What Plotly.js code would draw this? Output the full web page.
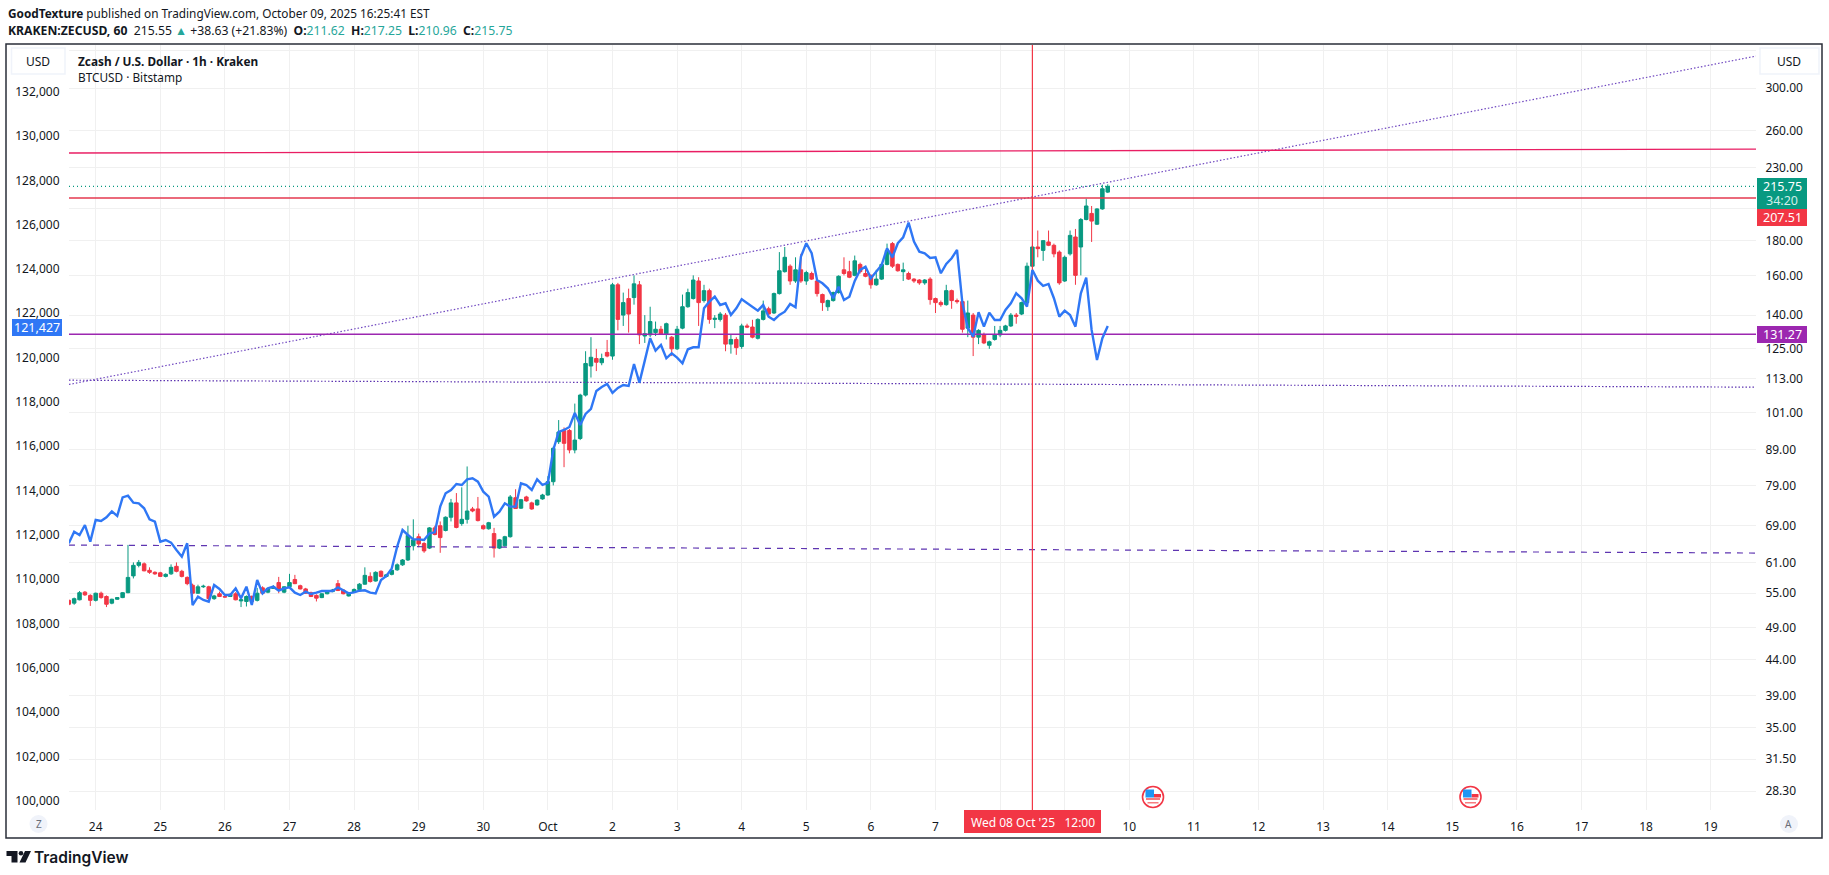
<!DOCTYPE html>
<html><head><meta charset="utf-8">
<script src="https://cdn.plot.ly/plotly-3.0.1.min.js"></script>
<style>html,body{margin:0;padding:0;background:#fff}#c{width:1829px;height:875px}</style>
</head><body><div id="c"></div>
<script>
var zecOpen=[53.7,53.2,53.8,55.2,54.6,53.7,55.0,54.4,53.2,53.9,54.2,55.1,58.3,60.4,60.7,59.4,59.0,58.9,58.2,58.7,60.2,59.2,58.0,56.5,55.0,56.2,56.2,54.0,54.9,54.4,54.4,54.9,53.6,53.5,54.4,53.7,56.0,55.2,55.9,57.0,55.2,56.2,57.6,56.4,55.8,55.1,54.6,54.2,54.9,55.3,56.8,55.6,54.5,55.2,55.7,56.7,58.2,57.3,59.2,58.2,58.6,59.5,60.5,61.5,64.5,66.5,65.0,64.0,68.5,69.0,67.9,71.0,74.5,69.5,70.5,73.0,73.0,69.0,68.3,67.2,64.0,64.5,66.5,75.8,73.2,76.0,74.5,74.0,75.5,76.5,80.0,91.5,95.0,95.0,89.0,92.5,107.0,118.0,121.0,119.3,123.5,122.0,155.0,140.0,148.0,148.5,155.0,130.5,131.0,132.0,133.5,131.5,130.0,125.0,134.0,144.0,148.0,157.0,147.0,152.0,138.0,138.0,140.0,127.0,129.0,126.0,135.0,134.5,129.5,138.0,143.0,141.0,150.5,162.0,165.0,157.0,163.0,157.0,161.0,157.0,150.0,144.0,147.0,151.0,163.0,162.0,160.0,166.0,161.0,160.0,155.0,158.0,166.0,178.0,166.0,162.0,161.0,158.0,157.5,156.0,158.0,148.0,146.0,145.0,152.0,147.0,146.5,134.0,140.0,130.0,131.0,126.5,129.0,131.0,133.0,135.0,140.0,140.5,146.0,165.0,176.0,174.0,179.0,177.0,173.0,157.0,172.0,182.0,176.0,193.0,197.0,190.0,200.0,211.62];
var zecHigh=[53.9,54.2,55.4,55.4,54.8,55.1,55.3,54.6,54.0,54.3,55.2,64.7,61.0,61.5,61.0,60.0,59.2,59.1,58.8,60.6,61.0,59.5,58.2,56.8,56.6,56.6,56.4,54.7,55.3,54.7,55.0,55.2,54.2,54.6,54.6,56.0,56.3,56.0,56.5,58.1,56.3,58.7,58.5,56.6,56.0,55.3,54.8,55.0,55.4,55.8,57.5,55.7,55.2,55.9,56.9,60.0,59.0,59.2,59.4,58.7,59.6,60.8,61.7,69.0,70.5,67.2,65.3,68.7,69.0,70.0,71.2,75.5,77.0,78.5,84.2,73.5,76.0,69.3,69.9,68.5,66.0,66.7,76.5,78.0,75.5,76.3,74.8,75.4,76.8,81.5,90.0,98.4,96.0,95.5,104.0,107.5,124.0,130.0,125.0,123.0,128.8,156.0,156.0,151.0,153.0,160.0,157.0,140.0,144.0,137.0,135.0,136.5,130.5,135.0,150.0,153.0,160.0,159.0,155.0,153.0,140.0,141.5,141.0,131.0,130.0,136.0,136.0,137.8,138.5,147.0,144.0,151.0,173.0,176.0,166.0,170.0,172.0,162.5,162.0,157.5,150.5,147.5,151.5,160.0,170.0,168.0,171.0,167.0,165.0,160.5,163.0,166.5,178.0,179.0,166.5,167.0,162.0,158.5,158.0,158.0,159.0,148.5,147.0,155.0,152.5,148.0,147.0,147.0,141.0,133.5,132.0,128.5,135.0,135.0,135.5,141.0,141.0,146.5,167.0,177.0,186.0,180.0,186.0,178.0,174.0,171.0,186.0,187.0,194.0,207.0,202.0,200.5,217.0,217.25];
var zecLow=[52.8,52.9,53.7,54.5,52.7,53.5,54.0,52.5,53.0,53.8,54.1,55.0,57.8,60.0,59.2,58.7,58.5,58.1,58.0,58.5,59.0,58.0,56.5,54.3,54.9,56.0,53.6,53.8,54.3,54.2,54.3,53.7,52.5,52.6,53.0,53.5,54.9,55.0,55.8,55.0,55.0,56.0,56.7,55.7,54.9,54.3,53.5,54.1,54.8,55.2,55.4,54.8,54.4,55.1,55.6,56.6,57.0,57.2,58.0,58.0,58.4,59.3,60.3,61.3,63.5,64.2,63.0,63.8,66.8,63.0,67.7,70.0,68.4,69.0,69.5,72.2,70.0,68.1,68.1,62.0,63.8,64.3,66.3,73.0,73.0,74.8,72.8,73.8,75.3,76.3,79.0,90.8,84.0,88.0,88.0,92.0,106.5,113.5,116.0,118.3,121.5,120.5,133.0,135.0,132.0,145.0,127.0,127.5,130.0,130.5,131.0,129.0,122.0,124.5,133.5,143.5,147.5,135.0,146.0,136.0,134.0,137.0,124.0,123.0,122.5,125.0,134.0,129.5,129.0,137.5,139.0,140.5,150.0,161.5,155.0,156.0,156.0,155.0,157.5,149.0,142.0,142.0,146.5,150.5,160.0,158.5,159.5,161.0,159.0,153.0,154.5,157.5,165.5,164.0,162.0,157.0,157.5,156.0,155.0,155.0,145.0,141.0,144.0,144.5,143.0,145.5,132.0,130.0,122.0,127.0,127.0,125.0,128.5,130.0,132.5,134.5,136.0,140.0,145.5,164.5,170.0,168.0,176.5,170.0,155.0,156.5,171.0,155.0,160.0,192.5,179.0,189.5,199.5,210.96];
var zecClose=[53.0,54.0,55.1,54.7,53.7,55.0,54.2,53.0,53.9,54.2,55.1,58.0,60.4,61.0,59.3,59.0,58.7,58.2,58.6,60.0,59.2,58.2,56.8,55.0,56.2,56.3,54.0,54.5,54.4,54.3,54.8,53.8,53.8,54.4,53.5,55.0,55.0,55.9,56.2,55.6,56.2,57.0,56.8,55.8,55.0,54.4,54.1,54.9,55.3,55.6,55.5,54.9,55.1,55.7,56.7,58.4,57.2,59.0,58.2,58.5,59.4,60.5,61.5,66.8,65.8,64.9,63.4,68.5,67.0,66.3,71.0,74.5,68.6,70.5,72.5,72.5,70.2,68.3,69.7,64.0,65.8,66.5,76.0,73.1,75.3,75.0,73.0,75.2,76.5,80.0,89.5,94.5,91.0,89.0,92.0,107.0,119.0,121.5,119.5,121.0,122.0,155.0,138.0,146.0,140.5,155.5,131.0,131.5,137.0,133.5,131.5,136.0,125.0,133.5,144.0,151.0,157.5,146.0,152.0,138.0,138.5,140.5,127.0,129.0,125.5,135.0,134.5,130.0,138.0,142.0,140.5,150.5,162.5,170.0,157.0,163.0,157.0,161.5,158.0,150.5,146.0,147.0,151.0,159.5,161.0,159.0,168.0,162.0,159.5,155.0,158.0,166.0,174.0,165.0,162.5,163.0,158.0,157.0,156.0,157.5,147.5,146.0,145.0,152.0,147.0,146.5,133.5,141.0,130.0,133.0,127.5,128.0,131.0,133.0,135.0,140.0,139.5,146.0,165.0,176.0,175.0,179.8,177.0,172.0,156.0,170.0,183.0,160.0,193.0,202.0,192.0,200.0,214.0,215.75];
var btcClose=[111617,112143,111993,112444,111692,112670,112625,112790,113061,112851,113693,113769,113453,113423,113197,112700,112595,111692,111767,111647,111316,111015,111617,108832,109208,109058,108983,109735,109555,109284,109284,109585,109133,109660,108832,109961,109359,109585,109660,109479,109585,109630,109389,109284,109434,109329,109389,109464,109464,109464,109630,109510,109359,109404,109479,109495,109389,109359,109961,110142,110488,111466,112218,111993,111797,111797,111767,112068,112113,113272,113874,114025,114295,114250,114506,114551,114401,113949,113723,112820,113046,113423,113272,113272,114325,114250,114025,114506,114251,114341,115831,116644,116734,116869,117501,116960,117456,117682,118494,118675,118810,118404,118630,118765,118720,119713,118869,119862,120873,120313,120570,119970,120196,119997,119744,120376,120467,120467,122227,122525,122751,122376,122453,121925,122227,122634,122453,122272,122119,122376,121848,121699,121925,122074,122421,122272,124556,125161,124710,123505,123356,123130,122679,123203,122602,122751,123460,123956,124105,123581,123879,124182,124936,124529,125161,125432,126091,125234,124782,124710,124498,124529,123807,124227,124484,124859,122453,121338,120945,122047,121397,122029,121699,121699,122150,122453,122904,122679,122300,123956,123473,123234,123324,122679,121848,122119,121925,121397,122904,123608,121248,119893,120873,121427];
var dayVals=['2025-09-24','2025-09-25','2025-09-26','2025-09-27','2025-09-28','2025-09-29','2025-09-30','2025-10-01','2025-10-02','2025-10-03','2025-10-04','2025-10-05','2025-10-06','2025-10-07','2025-10-08','2025-10-09','2025-10-10','2025-10-11','2025-10-12','2025-10-13','2025-10-14','2025-10-15','2025-10-16','2025-10-17','2025-10-18','2025-10-19'];
var dayText=['24','25','26','27','28','29','30','Oct','2','3','4','5','6','7','','','10','11','12','13','14','15','16','17','18','19'];
var zecTicks=[340,300,260,230,200,180,160,140,125,113,101,89,79,69,61,55,49,44,39,35,31.5,28.3];
var zecTickText=['','300.00','260.00','230.00','','180.00','160.00','140.00','125.00','113.00','101.00','89.00','79.00','69.00','61.00','55.00','49.00','44.00','39.00','35.00','31.50','28.30'];
var btcTicks=[100000,102000,104000,106000,108000,110000,112000,114000,116000,118000,120000,122000,124000,126000,128000,130000,132000];
var btcTickText=['100,000','102,000','104,000','106,000','108,000','110,000','112,000','114,000','116,000','118,000','120,000','122,000','124,000','126,000','128,000','130,000','132,000'];
var lineEnds=['2025-09-23 14:05','2025-10-19 16:50'];
var resistTop=[241.3,244.5];
var trendUp=[110.9,334.2];
var supportDotted=[112.5,109.9];
var supportDashed=[64.66,62.95];
var lastClose=[215.75,215.75];
var stopLine=[207.51,207.51];
var midLine=[131.27,131.27];
var crossTime=['2025-10-08 12:00','2025-10-08 12:00'];
var crossRange=[26.55,346.9];
var times=[];
(function(){var t=Date.UTC(2025,8,23,14);for(var i=0;i<zecOpen.length;i++){times.push(new Date(t+i*7200000).toISOString().slice(0,16).replace('T',' '));}})();

var FONT='"Noto Sans", sans-serif',INK='#131722',UP='#089981',DN='#f23645',BLUE='#2f77f5',PUR='#7e57c2';
var L=69,R=1756,T=45,B=810;
function px(x){return (x-L)/(R-L);}
function py(y){return (B-y)/(B-T);}
function hline(y,color,dash,w){return {x:lineEnds,y:y,mode:'lines',type:'scatter',yaxis:'y',hoverinfo:'skip',showlegend:false,line:{color:color,dash:dash,width:w}};}
var traces=[
 {type:'candlestick',x:times,open:zecOpen,high:zecHigh,low:zecLow,close:zecClose,yaxis:'y',showlegend:false,
  increasing:{line:{color:UP,width:1},fillcolor:UP},decreasing:{line:{color:DN,width:1},fillcolor:DN},hoverinfo:'skip'},
 hline(supportDashed,'#5e35b1','6px,6px',1.2),
 hline(supportDotted,'#5e35b1','1.5px,2px',1.2),
 hline(trendUp,'#7048c0','1.5px,2px',1.2),
 hline(resistTop,'#e91e63','solid',1.4),
 hline(lastClose,UP,'1px,3px',1.2),
 hline(stopLine,'#e5394f','solid',1.4),
 hline(midLine,'#9c27b0','solid',1.5),
 {x:times,y:btcClose,type:'scatter',mode:'lines',yaxis:'y2',showlegend:false,hoverinfo:'skip',line:{color:BLUE,width:2.4}},
 {x:crossTime,y:crossRange,type:'scatter',mode:'lines',yaxis:'y',showlegend:false,hoverinfo:'skip',line:{color:DN,width:1.2}}
];
function rectPx(x0,y0,x1,y1,fill,line,w){return {type:'rect',xref:'paper',yref:'paper',x0:px(x0),x1:px(x1),y0:py(y0),y1:py(y1),fillcolor:fill,line:{color:line||'rgba(0,0,0,0)',width:w||0},layer:'above'};}
function circPx(cx,cy,r,fill,line,w){var s=rectPx(cx-r,cy-r,cx+r,cy+r,fill,line,w);s.type='circle';return s;}
function text(x,y,t,o){o=o||{};return {xref:'paper',yref:'paper',x:px(x),y:py(y),text:t,showarrow:false,xanchor:o.anchor||'left',yanchor:'middle',align:o.align||'left',font:{family:o.family||FONT,size:o.size||11.8,color:o.color||INK,weight:o.weight||400}};}
function flag(cx,cy){return [
 circPx(cx,cy,10.5,'#ffffff',DN,1.6),
 rectPx(cx-7,cy+1,cx+7,cy+3,'#f77c80'),
 rectPx(cx-5.5,cy+5,cx+5.5,cy+6.5,'#f77c80'),
 rectPx(cx+1,cy-3,cx+8,cy+0.5,'#f23645'),
 rectPx(cx-7.5,cy-7.5,cx+1,cy+0.5,'#2196f3')
];}
var logo=[
 {type:'path',xref:'paper',yref:'paper',layer:'above',fillcolor:INK,line:{width:0},
  path:'M '+px(6.5)+' '+py(851)+' L '+px(17.5)+' '+py(851)+' L '+px(17.5)+' '+py(862.5)+' L '+px(11.5)+' '+py(862.5)+' L '+px(11.5)+' '+py(856)+' L '+px(6.5)+' '+py(856)+' Z'},
 circPx(21,853.2,2.3,INK),
 {type:'path',xref:'paper',yref:'paper',layer:'above',fillcolor:INK,line:{width:0},
  path:'M '+px(25)+' '+py(851)+' L '+px(31)+' '+py(851)+' L '+px(25.5)+' '+py(862.5)+' L '+px(19.5)+' '+py(862.5)+' Z'}
];
var shapes=[
 rectPx(6,44,1822,838,'rgba(0,0,0,0)','#2a2e39',1.5),
 rectPx(11.5,48,65,74,'#ffffff','#f0f3fa',1.5),
 rectPx(1760,48,1819,74,'#ffffff','#f0f3fa',1.5),
 circPx(38.5,824,9,'#f0f3fa'),
 circPx(1789,824,9,'#f0f3fa'),
 rectPx(1757,178,1807,209,UP),
 rectPx(1757,209,1807,226,DN),
 rectPx(1757,326,1807,343,'#9c27b0'),
 rectPx(12,319,62,336,BLUE),
 rectPx(964,810,1101,833,DN)
].concat(flag(1153,797)).concat(flag(1470.5,797)).concat(logo);
var teal='#26a69a';
function v(t){return '<span style="color:'+teal+'">'+t+'</span>';}
var annotations=[
 text(6,13,'<b>GoodTexture</b> published on TradingView.com, October 09, 2025 16:25:41 EST'),
 text(6,30,'<b>KRAKEN:ZECUSD, 60</b>  215.55 '+v('▲')+' +38.63 (+21.83%)  <b>O:</b>'+v('211.62')+'  <b>H:</b>'+v('217.25')+'  <b>L:</b>'+v('210.96')+'  <b>C:</b>'+v('215.75'),{size:12.2}),
 text(76,60.5,'<b>Zcash / U.S. Dollar · 1h · Kraken</b>'),
 text(76,77.5,'BTCUSD · Bitstamp'),
 text(38,61,'USD',{anchor:'center',size:12}),
 text(1789.5,61,'USD',{anchor:'center',size:12}),
 text(38.5,824,'Z',{anchor:'center',size:10,color:'#6a6d78'}),
 text(1789,824,'A',{anchor:'center',size:10,color:'#6a6d78'}),
 text(1782,186.5,'215.75',{anchor:'center',size:12.5,color:'#fff'}),
 text(1782,200.5,'34:20',{anchor:'center',size:12.5,color:'#d0efe9'}),
 text(1782,217.5,'207.51',{anchor:'center',size:12.5,color:'#fff'}),
 text(1782,334.5,'131.27',{anchor:'center',size:12.5,color:'#fff'}),
 text(37,327.5,'121,427',{anchor:'center',size:12.5,color:'#fff'}),
 text(1032.5,822,"Wed 08 Oct '25   12:00",{anchor:'center',size:12,color:'#fff'}),
 text(32,857,'TradingView',{size:15.5,color:INK,family:'Inter, sans-serif',weight:600})
];
var layout={
 width:1829,height:875,paper_bgcolor:'#fff',plot_bgcolor:'#fff',showlegend:false,
 margin:{l:L,r:1829-R,t:T,b:875-B,pad:0},
 font:{family:FONT,size:12,color:INK},
 boxgap:0,boxgroupgap:0.35,
 xaxis:{type:'date',range:['2025-09-23 14:05','2025-10-19 16:50'],tickmode:'array',tickvals:dayVals,ticktext:dayText,tickangle:0,
  showgrid:true,gridcolor:'#f0f0f0',gridwidth:1,zeroline:false,showline:false,ticks:'outside',ticklen:6,tickcolor:'rgba(0,0,0,0)',
  tickfont:{family:FONT,size:12,color:INK},rangeslider:{visible:false},fixedrange:true},
 yaxis:{type:'log',side:'right',range:[1.4241,2.5402],tickmode:'array',tickvals:zecTicks,ticktext:zecTickText,
  showgrid:true,gridcolor:'#f0f0f0',gridwidth:1,zeroline:false,showline:false,ticks:'outside',ticklen:6,tickcolor:'rgba(0,0,0,0)',
  tickfont:{family:FONT,size:12,color:INK},fixedrange:true},
 yaxis2:{type:'linear',side:'left',overlaying:'y',range:[99580,134110],tickmode:'array',tickvals:btcTicks,ticktext:btcTickText,
  showgrid:false,zeroline:false,showline:false,ticks:'outside',ticklen:6,tickcolor:'rgba(0,0,0,0)',
  tickfont:{family:FONT,size:12,color:INK},fixedrange:true},
 shapes:shapes,annotations:annotations
};
Plotly.newPlot('c',traces,layout,{displayModeBar:false,staticPlot:true});
</script></body></html>
